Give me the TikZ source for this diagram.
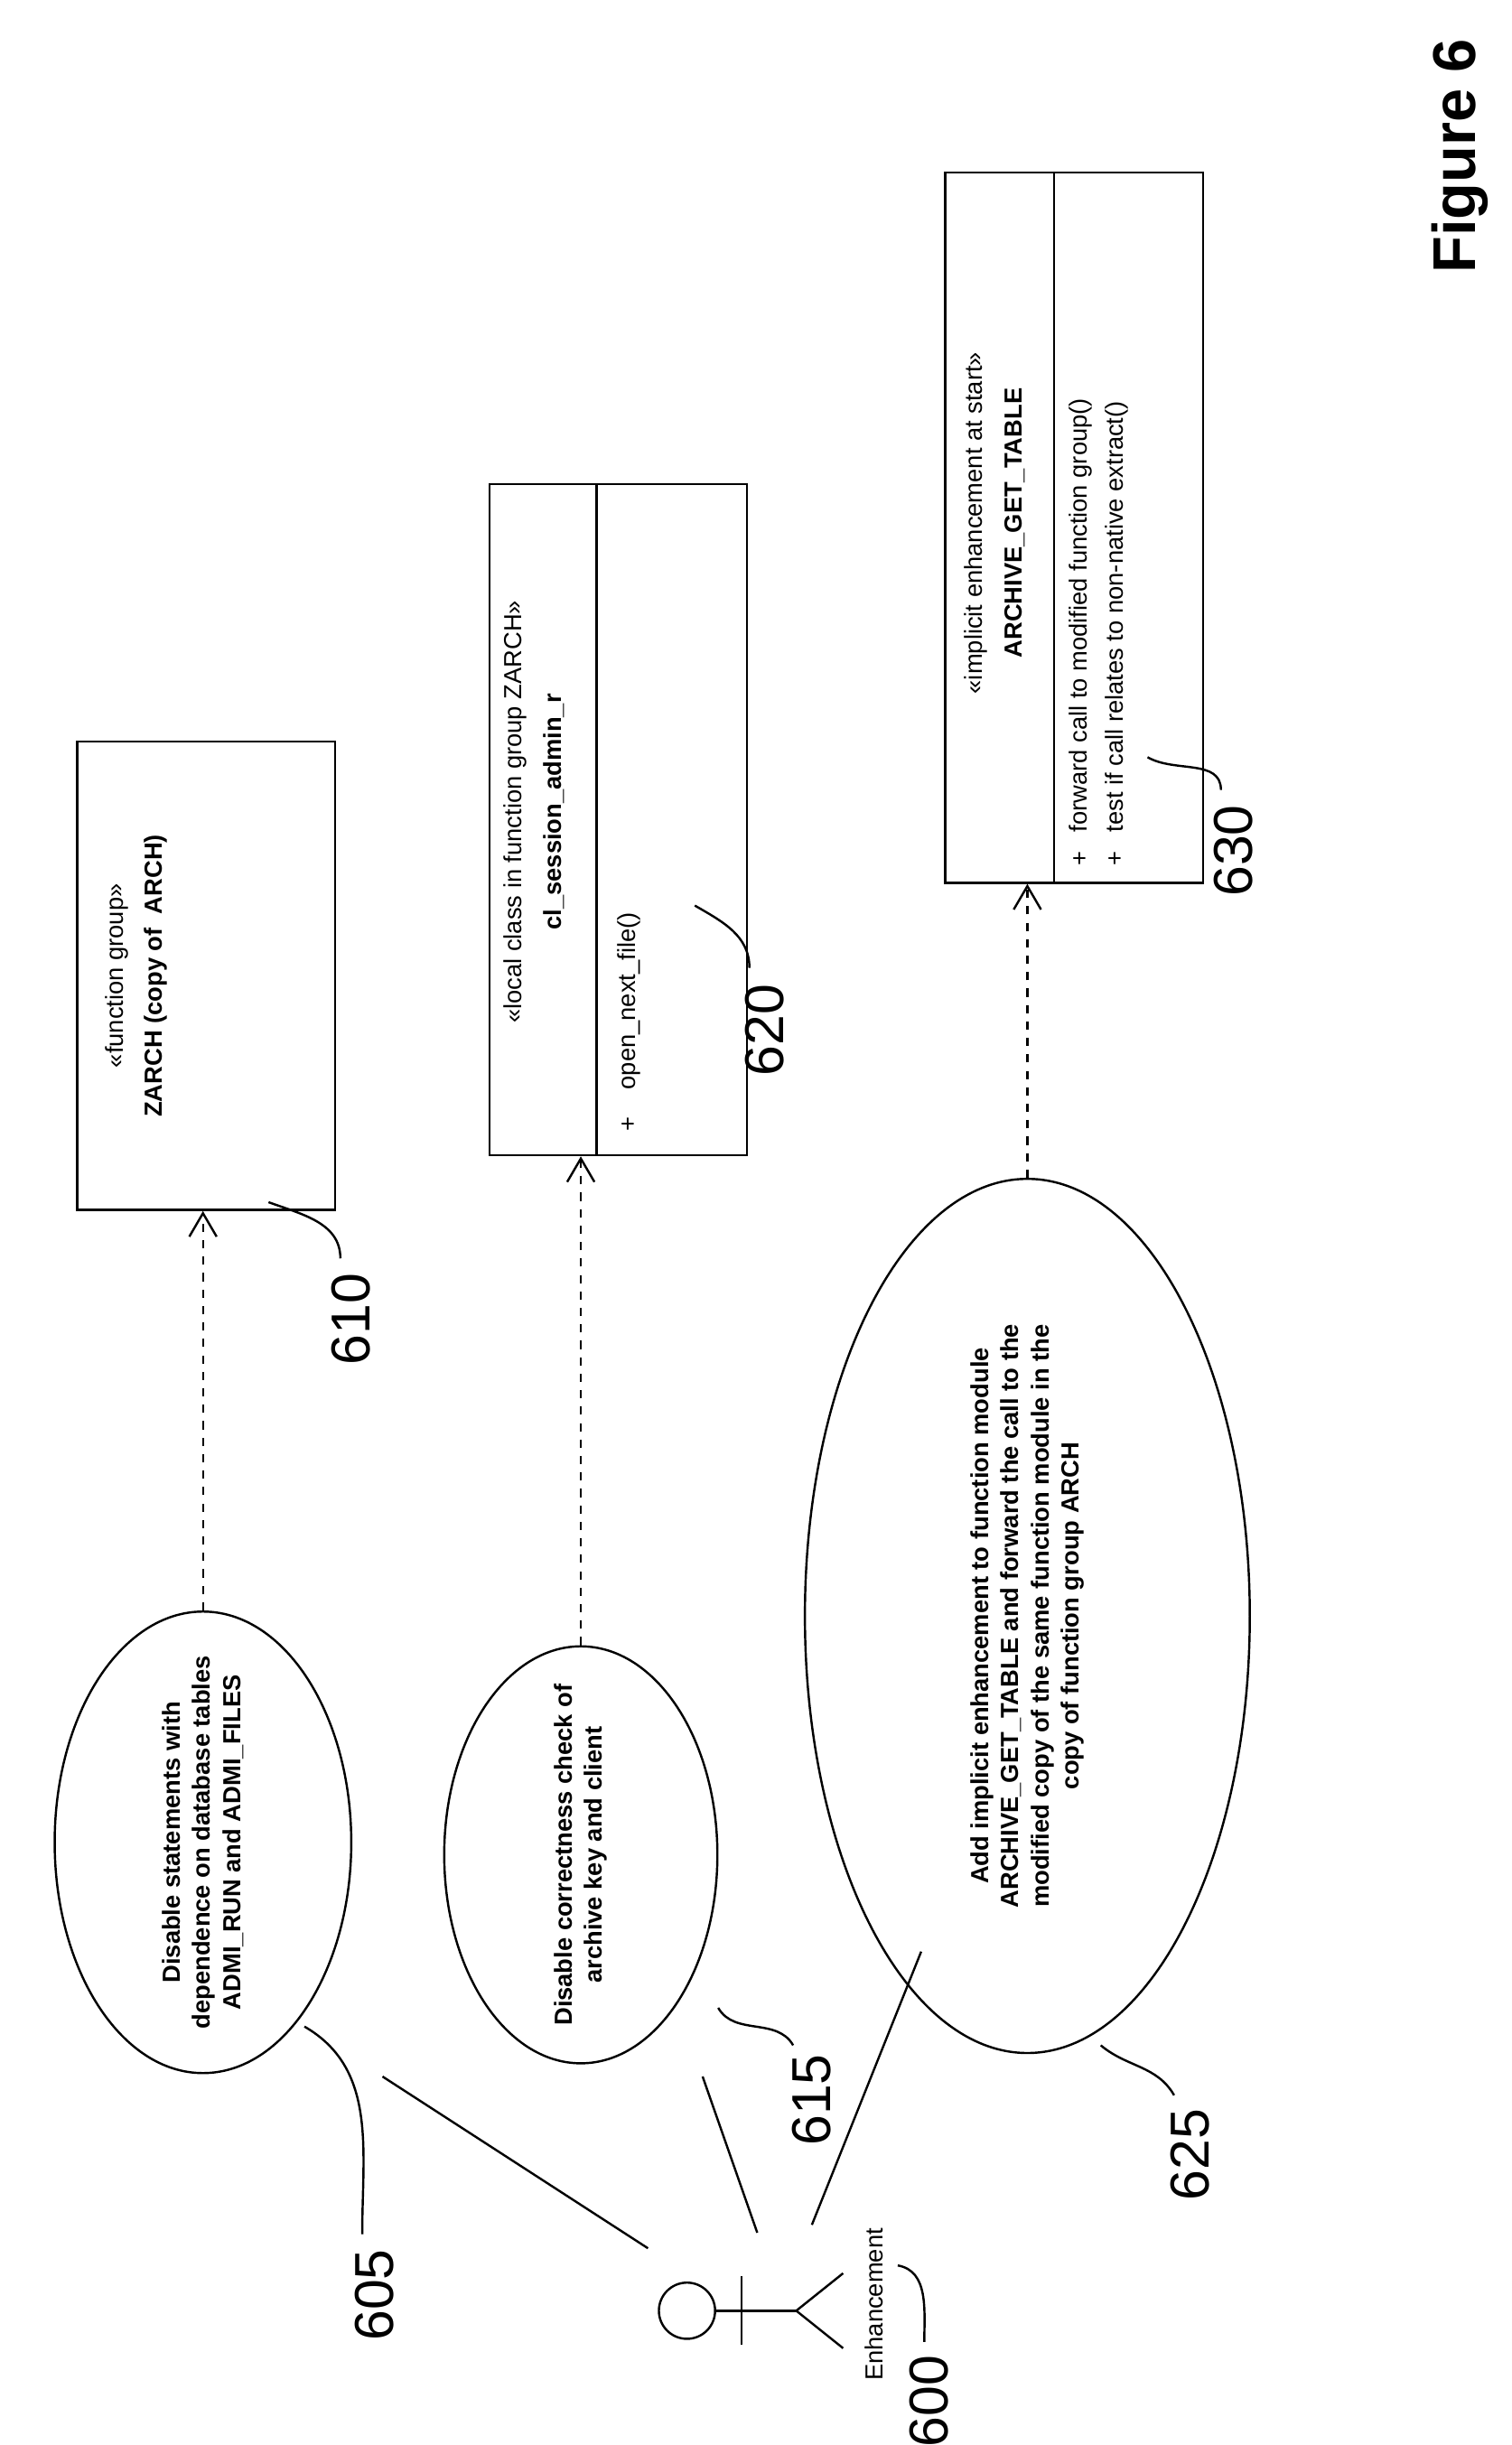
\documentclass[tikz,border=0pt]{standalone}
\usepackage{fontspec}
\setmainfont{Liberation Sans}
\usetikzlibrary{shapes.geometric,arrows.meta}
\tikzset{
  usecase/.style={draw, thick, ellipse, rotate=90, align=center, font=\small\bfseries, inner sep=-3mm},
  classbox/.style={draw, thick, rectangle, rotate=90, minimum height=33mm},
  boxtext/.style={rotate=90, font=\small, inner sep=1pt},
  refnum/.style={rotate=90, font=\fontsize{20}{22}\selectfont},
  leader/.style={thick},
  depends/.style={thick, dashed, -{Straight Barb[length=3mm,width=3.5mm]}},
}
\begin{document}
\begin{tikzpicture}[x=0.02cm, y=0.02cm]
    \useasboundingbox (0,0) rectangle (968,1566);
    \node[rotate=90, font=\fontsize{22}{24}\selectfont\bfseries] (fig) at (935,1466) {Figure 6};
    % use cases
    \node[usecase, minimum width=48mm, minimum height=38mm] (e605) at (130,386)
        {Disable statements with\\dependence on database tables\\ADMI\_RUN and ADMI\_FILES};
    \node[usecase, minimum width=49mm, minimum height=35mm] (e615) at (372,378)
        {Disable correctness check of\\archive key and client};
    \node[usecase, minimum width=112mm, minimum height=57mm] (e625) at (658,531)
        {Add implicit enhancement to function module\\ARCHIVE\_GET\_TABLE and forward the call to the\\modified copy of the same function module in the\\copy of function group ARCH};
    % classes
    \node[classbox, minimum width=60mm] (b610) at (132,941) {};
    \node[boxtext] (s610) at (75,941) {«function group»};
    \node[boxtext, font=\small\bfseries] (n610) at (100,941) {ZARCH (copy of\ \ ARCH)};
    \node[classbox, minimum width=86mm] (b620) at (396,1041) {};
    \draw[thick] (382,826) -- (382,1256);
    \node[boxtext] (s620) at (330,1046) {«local class in function group ZARCH»};
    \node[boxtext, font=\small\bfseries] (n620) at (355,1046) {cl\_session\_admin\_r};
    \node[boxtext] (p620) at (403,846) {+};
    \node[boxtext, anchor=west] (m620) at (403,866) {open\_next\_file()};
    \node[classbox, minimum width=91mm] (b630) at (688,1228) {};
    \draw[thick] (675,1001) -- (675,1456);
    \node[boxtext] (s630) at (625,1231) {«implicit enhancement at start»};
    \node[boxtext, font=\small\bfseries] (n630) at (650,1231) {ARCHIVE\_GET\_TABLE};
    \node[boxtext] (p630a) at (692,1016) {+};
    \node[boxtext, anchor=west] (m630a) at (692,1031) {forward call to modified function group()};
    \node[boxtext] (p630b) at (715,1016) {+};
    \node[boxtext, anchor=west] (m630b) at (715,1031) {test if call relates to non-native extract()};
    % dependencies
    \draw[depends] (e605.east) -- (e605.east |- b610.west);
    \draw[depends] (e615.east) -- (e615.east |- b620.west);
    \draw[depends] (e625.east) -- (e625.east |- b630.west);
    % actor
    \node[draw, thick, circle, minimum size=36*0.02cm, inner sep=0pt] (head) at (440,86) {};
    \coordinate (hip) at (510,86);
    \draw[thick] (head.east) -- (hip);
    \draw[thick] (475,64) -- (475,108);
    \draw[thick] (540,62) -- (hip) -- (540,110);
    \node[boxtext] (actor) at (560,90) {Enhancement};
    \coordinate (a605) at (415,126);
    \coordinate (a615) at (485,136);
    \coordinate (a625) at (520,141);
    \draw[thick] (a605) -- (245,236);
    \draw[thick] (a615) -- (450,236);
    \draw[thick] (a625) -- (590,316);
    % reference numerals
    \node[refnum] (l600) at (595,28) {600};
    \node[refnum] (l605) at (240,96) {605};
    \node[refnum] (l610) at (225,721) {610};
    \node[refnum] (l615) at (520,221) {615};
    \node[refnum] (l620) at (490,906) {620};
    \node[refnum] (l625) at (762,186) {625};
    \node[refnum] (l630) at (790,1021) {630};
    \draw[leader] (575,115) to[out=-10, in=90] (592,66);
    \draw[leader] (195,268) to[out=-30, in=90] (232,135);
    \draw[leader] (172,796) to[out=-20, in=90] (218,760);
    \draw[leader] (460,280) to[out=-60, in=120] (508,256);
    \draw[leader] (445,986) to[out=-30, in=90] (480,946);
    \draw[leader] (705,256) to[out=-40, in=120] (752,224);
    \draw[leader] (735,1081) to[out=-30, in=90] (782,1060);
\end{tikzpicture}
\end{document}
